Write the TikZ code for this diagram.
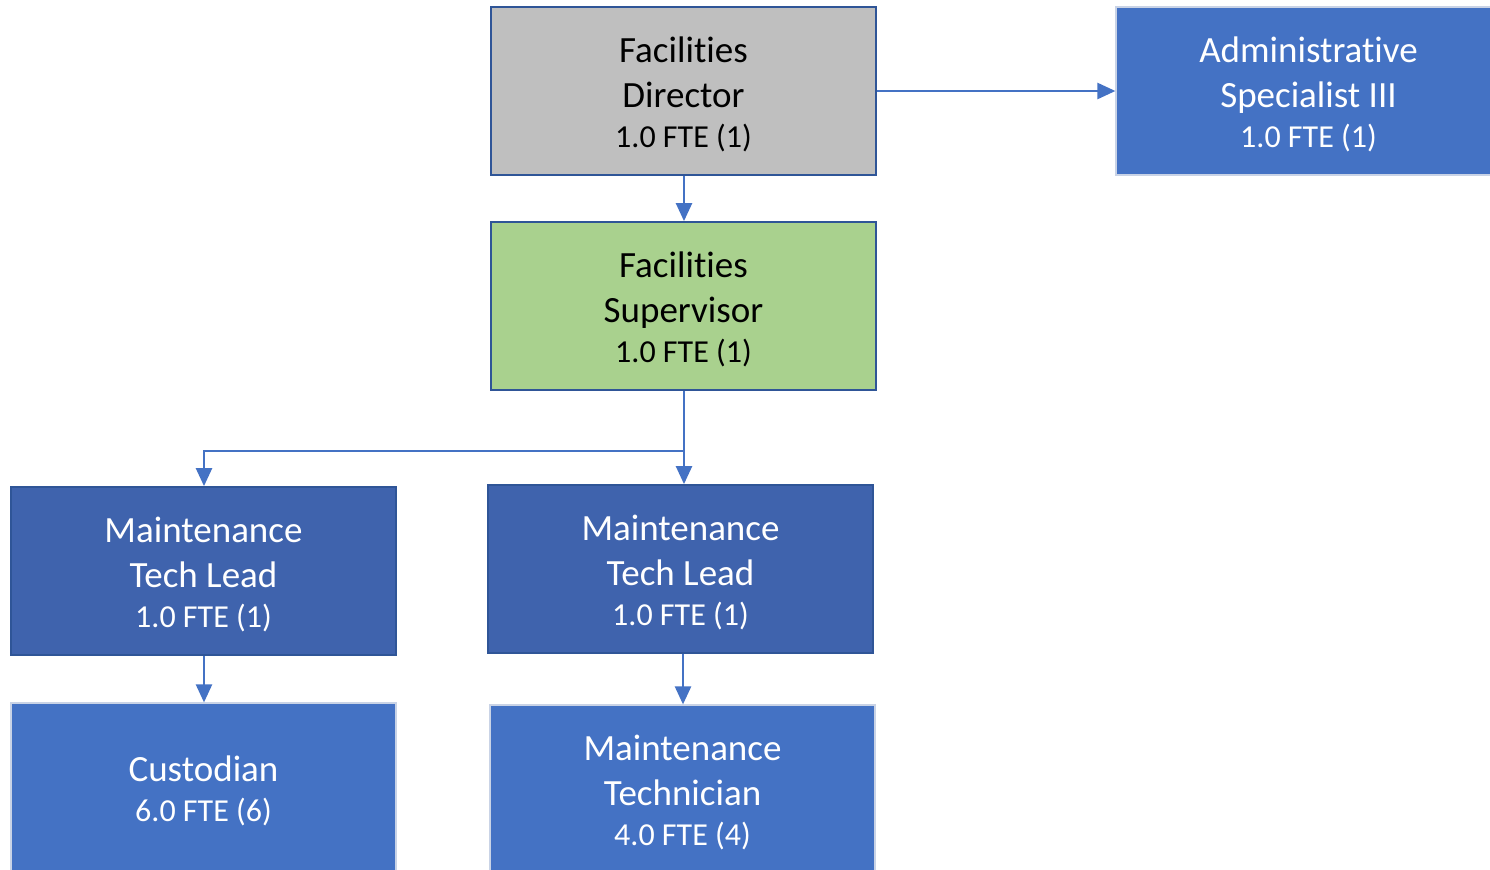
\documentclass[tikz,border=0pt]{standalone}
\usepackage{fontspec}
\setmainfont{Carlito}[Ligatures=NoCommon]
\usetikzlibrary{arrows.meta}
\definecolor{boxblue}{HTML}{4472C4}
\definecolor{leadblue}{HTML}{3F63AD}
\definecolor{edgeblue}{HTML}{2F5597}
\definecolor{boxgray}{HTML}{BFBFBF}
\definecolor{boxgreen}{HTML}{A9D18E}
\definecolor{rimgray}{HTML}{C9D3E6}
\newcommand{\lift}{\rule{0pt}{16.5pt}}
\newcommand{\fte}[1]{\\[-2.5pt]{\fontsize{16}{21}\selectfont #1}}
\begin{document}
\begin{tikzpicture}[x=0.5pt,y=-0.5pt,
    position/.style ={rectangle, minimum width=192.5pt, minimum height=84pt,
      inner sep=0pt, align=center, font=\fontsize{18.5}{22.5}\selectfont},
    head/.style ={position, draw=edgeblue, line width=0.9pt, text=black},
    lead/.style ={position, fill=leadblue, draw=edgeblue, line width=0.9pt, text=white},
    staff/.style ={position, fill=boxblue, draw=rimgray, line width=0.6pt, text=white},
    link/.style ={draw=boxblue, line width=1.2pt, -{Triangle[length=9pt,width=8pt]}}]
   \useasboundingbox (0,0) rectangle (1490,869);
   \node[head,fill=boxgray] (dir)  at (683.5,91)  {\lift Facilities\\Director\fte{1.0 FTE (1)}};
   \node[staff] (admin)  at (1308.5,91)  {\lift Administrative\\Specialist III\fte{1.0 FTE (1)}};
   \node[head,fill=boxgreen] (sup)  at (683.5,306)  {\lift Facilities\\Supervisor\fte{1.0 FTE (1)}};
   \node[lead] (leadL)  at (203.5,571)  {\lift Maintenance\\Tech Lead\fte{1.0 FTE (1)}};
   \node[lead] (leadR)  at (680.5,569)  {\lift Maintenance\\Tech Lead\fte{1.0 FTE (1)}};
   \node[staff] (cust)  at (203.5,787)  {\lift Custodian\fte{6.0 FTE (6)}};
   \node[staff] (tech)  at (682.5,789)  {\lift Maintenance\\Technician\fte{4.0 FTE (4)}};
   \coordinate (split) at (684,451);

   \draw[link] (dir.east) -- (admin.west);
   \draw[link] (dir.south -| 684,0) -- (sup.north -| 684,0);
   \draw[link] (sup.south -| 684,0) -- (leadR.north -| 684,0);
   \draw[link] (split) -| (leadL.north -| 204,0);
   \draw[link] (leadL.south -| 204,0) -- (cust.north -| 204,0);
   \draw[link] (leadR.south -| 683,0) -- (tech.north -| 683,0);
 \end{tikzpicture}
\end{document}
